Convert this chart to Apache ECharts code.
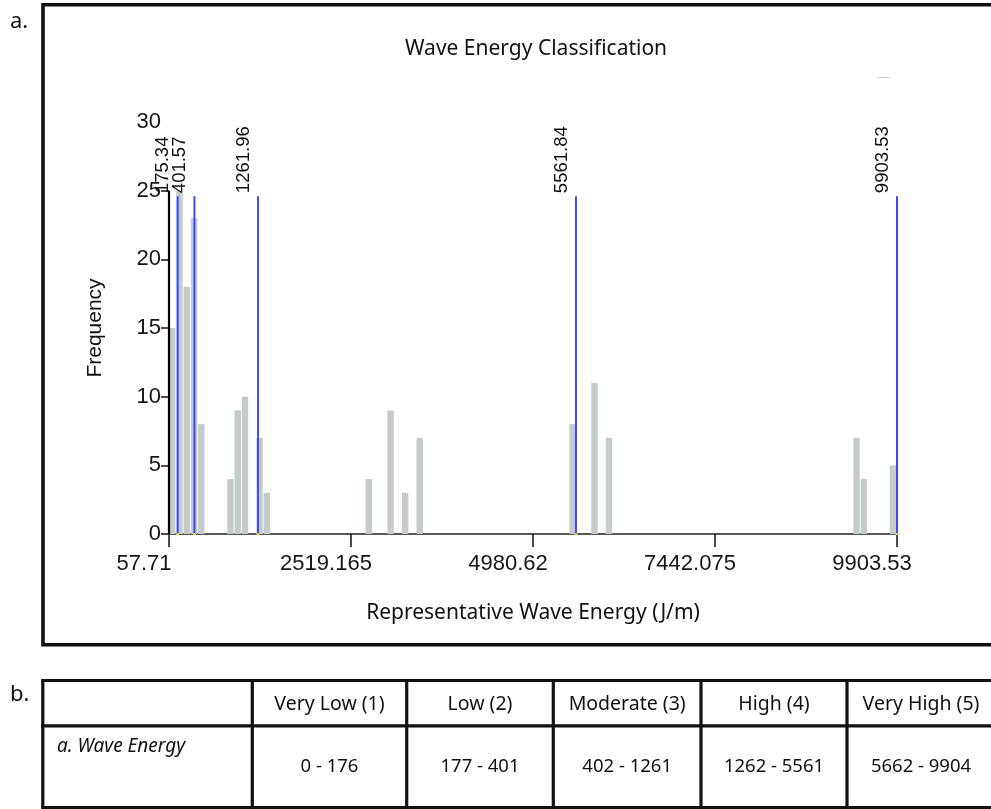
<!DOCTYPE html>
<html>
<head>
<meta charset="utf-8">
<title>Wave Energy Classification</title>
<script src="https://cdn.jsdelivr.net/npm/echarts@6/dist/echarts.min.js"></script>
<style>
  html, body { margin: 0; padding: 0; background: #ffffff; }
  #chart { width: 991px; height: 809px; }
</style>
</head>
<body>
<div id="chart"></div>
<script>
// Histogram of representative wave energy (100 equal bins between the extremes)
const energyMin = 57.71;
const energyMax = 9903.53;
const binTotal = 100;
const binIndex = [0, 1, 2, 3, 4, 8, 9, 10, 12, 13, 27, 30, 32, 34, 55, 58, 60, 94, 95, 99];
const binCount = [15, 25, 18, 23, 8, 4, 9, 10, 7, 3, 4, 9, 3, 7, 8, 11, 7, 7, 4, 5];

// Class break values (natural breaks)
const breakValues = [175.34, 401.57, 1261.96, 5561.84, 9903.53];

// Axis ticks
const xTickValues = [57.71, 2519.165, 4980.62, 7442.075, 9903.53];
const xTickLabels = ['57.71', '2519.165', '4980.62', '7442.075', '9903.53'];
const yTickValues = [0, 5, 10, 15, 20, 25];

// Classification table
const classNames = ['Very Low (1)', 'Low (2)', 'Moderate (3)', 'High (4)', 'Very High (5)'];
const classRanges = ['0 - 176', '177 - 401', '402 - 1261', '1262 - 5561', '5662 - 9904'];
const rowLabel = 'a. Wave Energy';

const chart = echarts.init(document.getElementById('chart'), null, { renderer: 'canvas' });

const binWidth = (energyMax - energyMin) / binTotal;
const histData = binIndex.map((b, i) => [energyMin + b * binWidth, binCount[i]]);
const breakTop = 24.6;
const breakData = breakValues.map(v => [v, breakTop]);
const yAxisTop = 25;

const sans = '"Noto Sans", "Open Sans", sans-serif';
const arial = '"Liberation Sans", Arial, sans-serif';

// ---- panel frames and table (drawn as graphic elements) ----
const colX = [42.8, 252.3, 406.7, 553.3, 701, 847, 995];
const tTop = 680.5, tMid = 725.8, tBot = 807.5;
const lineW = 3.2;
const graphics = [];

// panel a frame
graphics.push({ type: 'rect', shape: { x: 43, y: 4.7, width: 1000, height: 640 },
  style: { fill: 'none', stroke: '#111', lineWidth: 3.6 }, z: 10 });
graphics.push({ type: 'text', x: 10, y: 22, style: { text: 'a.', font: '22px ' + sans, fill: '#111', verticalAlign: 'middle' } });
graphics.push({ type: 'text', x: 10, y: 695, style: { text: 'b.', font: '22px ' + sans, fill: '#111', verticalAlign: 'middle' } });
// stray legend dash near the top right
graphics.push({ type: 'line', shape: { x1: 877.5, y1: 77.5, x2: 889.5, y2: 77.5 }, style: { stroke: '#c8c8c8', lineWidth: 1 } });

// table grid
[tTop, tMid, tBot].forEach(y => graphics.push({ type: 'line',
  shape: { x1: colX[0] - lineW / 2, y1: y, x2: 1000, y2: y }, style: { stroke: '#111', lineWidth: lineW }, z: 10 }));
colX.forEach(x => graphics.push({ type: 'line',
  shape: { x1: x, y1: tTop, x2: x, y2: tBot }, style: { stroke: '#111', lineWidth: lineW }, z: 10 }));

// header and value cells
classNames.forEach((name, i) => {
  const cx = (colX[i + 1] + colX[i + 2]) / 2;
  graphics.push({ type: 'text', x: cx, y: 704,
    style: { text: name, font: '19.5px ' + sans, fill: '#111', align: 'center', verticalAlign: 'middle' } });
  graphics.push({ type: 'text', x: cx, y: 767,
    style: { text: classRanges[i], font: '18.5px ' + sans, fill: '#111', align: 'center', verticalAlign: 'middle' } });
});
graphics.push({ type: 'text', x: 57, y: 747,
  style: { text: rowLabel, font: 'italic 19px ' + sans, fill: '#111', align: 'left', verticalAlign: 'middle' } });

const option = {
  animation: false,
  backgroundColor: '#ffffff',
  title: {
    text: 'Wave Energy Classification',
    left: 405, top: 39, padding: 0,
    textStyle: { fontFamily: sans, fontSize: 21, fontWeight: 'normal', color: '#111' }
  },
  grid: { left: 169, right: 94, top: 122, bottom: 275, containLabel: false },
  xAxis: {
    type: 'value', min: energyMin, max: energyMax,
    name: 'Representative Wave Energy (J/m)', nameLocation: 'middle', nameGap: 69,
    nameTextStyle: { fontFamily: sans, fontSize: 21, color: '#111' },
    axisLine: { show: true, onZero: false, lineStyle: { color: '#222', width: 1.5 } },
    axisTick: { show: true, customValues: xTickValues, length: 13, lineStyle: { color: '#111', width: 1.5 } },
    axisLabel: {
      customValues: xTickValues, margin: 19,
      fontFamily: arial, fontSize: 22, color: '#151515', padding: [0, 50, 0, 0],
      formatter: v => {
        const k = xTickValues.findIndex(t => Math.abs(t - v) < 1e-6);
        return k >= 0 ? xTickLabels[k] : '';
      }
    },
    splitLine: { show: false }
  },
  yAxis: {
    type: 'value', min: 0, max: 30, interval: 5,
    name: 'Frequency', nameLocation: 'middle', nameGap: 63,
    nameTextStyle: { fontFamily: arial, fontSize: 21, color: '#111' },
    axisLine: { show: false },
    axisTick: { show: true, customValues: yTickValues, length: 8, lineStyle: { color: '#111', width: 1.5 } },
    axisLabel: { margin: 8, fontFamily: arial, fontSize: 22, color: '#151515' },
    splitLine: { show: false }
  },
  series: [
    {
      name: 'Frequency',
      type: 'custom',
      data: histData,
      clip: false,
      z: 2,
      renderItem: (params, api) => {
        const lo = api.value(0);
        const top = api.coord([lo, api.value(1)]);
        const base = api.coord([lo + binWidth * 0.88, 0]);
        return {
          type: 'rect',
          shape: { x: top[0], y: top[1], width: base[0] - top[0], height: base[1] - top[1] },
          style: { fill: '#c5cbca' }
        };
      }
    },
    {
      // vertical axis line, drawn only up to 25
      name: 'Frequency axis',
      type: 'line',
      data: [[energyMin, 0], [energyMin, yAxisTop]],
      symbol: 'none',
      silent: true,
      clip: false,
      z: 4,
      lineStyle: { color: '#000', width: 2.2 }
    },
    {
      name: 'Class breaks',
      type: 'custom',
      data: breakData,
      clip: false,
      z: 5,
      renderItem: (params, api) => {
        const v = api.value(0);
        const p0 = api.coord([v, 0]);
        const p1 = api.coord([v, api.value(1)]);
        return {
          type: 'group',
          children: [
            { type: 'line', shape: { x1: p0[0], y1: p0[1], x2: p1[0], y2: p1[1] },
              style: { stroke: '#3b4cff', lineWidth: 2 } },
            { type: 'rect', shape: { x: p0[0] - 1.5, y: p0[1] - 1, width: 3, height: 2 },
              style: { fill: '#d8cc4a' } },
            { type: 'text', x: p1[0] - 5, y: p1[1] - 3, rotation: Math.PI / 2,
              style: { text: v.toFixed(2), font: '18.5px ' + arial, fill: '#111',
                       align: 'left', verticalAlign: 'bottom' } }
          ]
        };
      }
    }
  ],
  graphic: { elements: graphics }
};

chart.setOption(option);
</script>
</body>
</html>
